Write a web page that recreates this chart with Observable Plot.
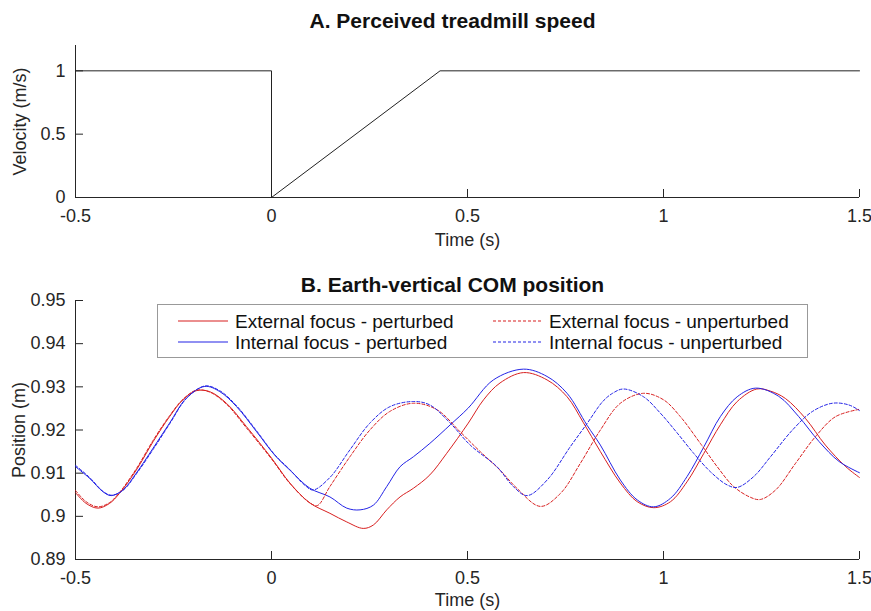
<!DOCTYPE html>
<html>
<head>
<meta charset="utf-8">
<script src="https://cdn.jsdelivr.net/npm/d3@7"></script>
<script src="https://cdn.jsdelivr.net/npm/@observablehq/plot@0.6"></script>
<style>
  body { margin: 0; background: #fff; }
  #wrap { position: relative; width: 871px; height: 611px; background: #fff;
          font-family: "Liberation Sans", Arial, Helvetica, sans-serif; }
  #legend { position: absolute; left: 157px; top: 304px; }
</style>
</head>
<body>
<div id="wrap"></div>
<script>
// ---------- data ----------
const timeTicks = [-0.5, 0, 0.5, 1, 1.5];
const velTicks = [0, 0.5, 1];
const posTicks = [0.89, 0.9, 0.91, 0.92, 0.93, 0.94, 0.95];

const titleA = "A. Perceived treadmill speed";
const titleB = "B. Earth-vertical COM position";
const xLabel = "Time (s)";
const yLabelA = "Velocity (m/s)";
const yLabelB = "Position (m)";

// Panel A: perceived treadmill speed
const velT = [-0.5, 0, 0, 0.43, 1.5];
const velV = [1, 1, 0, 1, 1];

// Panel B series
const seriesNames = [
  "External focus - perturbed",
  "Internal focus - perturbed",
  "External focus - unperturbed",
  "Internal focus - unperturbed"
];

const extPertT = [-0.5, -0.473, -0.443, -0.413, -0.388, -0.345, -0.302, -0.26, -0.226, -0.192, -0.158, -0.115, -0.064, 0.0, 0.047, 0.098, 0.149, 0.192, 0.234, 0.26, 0.294, 0.328, 0.362, 0.404, 0.447, 0.502, 0.541, 0.583, 0.643, 0.703, 0.754, 0.795, 0.839, 0.89, 0.933, 0.975, 1.018, 1.06, 1.103, 1.145, 1.188, 1.238, 1.273, 1.311, 1.362, 1.413, 1.465, 1.5];
const extPertV = [0.9055, 0.9030, 0.9019, 0.9030, 0.9053, 0.9107, 0.9173, 0.9231, 0.9270, 0.9291, 0.9289, 0.9262, 0.9208, 0.9135, 0.9077, 0.9031, 0.9007, 0.8987, 0.8972, 0.8980, 0.9015, 0.9045, 0.9065, 0.9096, 0.9146, 0.9216, 0.9270, 0.9309, 0.9333, 0.9316, 0.9277, 0.9218, 0.9150, 0.9077, 0.9034, 0.9020, 0.9034, 0.9080, 0.9146, 0.9212, 0.9266, 0.9295, 0.9290, 0.9273, 0.9227, 0.9165, 0.9115, 0.9090];

const intPertT = [-0.5, -0.464, -0.43, -0.409, -0.379, -0.345, -0.302, -0.26, -0.217, -0.17, -0.132, -0.089, -0.038, 0.008, 0.047, 0.098, 0.149, 0.192, 0.226, 0.26, 0.294, 0.328, 0.362, 0.404, 0.456, 0.502, 0.566, 0.643, 0.703, 0.754, 0.805, 0.839, 0.89, 0.933, 0.975, 1.018, 1.06, 1.103, 1.145, 1.188, 1.235, 1.294, 1.345, 1.397, 1.448, 1.5];
const intPertV = [0.9115, 0.9088, 0.9057, 0.9048, 0.9061, 0.9100, 0.9158, 0.9216, 0.9274, 0.9301, 0.9289, 0.9254, 0.9196, 0.9142, 0.9107, 0.9065, 0.9045, 0.9019, 0.9015, 0.9026, 0.9069, 0.9115, 0.9138, 0.9169, 0.9212, 0.9251, 0.9316, 0.9341, 0.9324, 0.9285, 0.9211, 0.9165, 0.9084, 0.9038, 0.9022, 0.9042, 0.9092, 0.9161, 0.9231, 0.9277, 0.9297, 0.9278, 0.9231, 0.9173, 0.9127, 0.9101];

const extUnpT = [-0.5, -0.473, -0.443, -0.413, -0.388, -0.345, -0.302, -0.26, -0.226, -0.192, -0.158, -0.115, -0.064, 0.0, 0.047, 0.098, 0.117, 0.149, 0.2, 0.251, 0.302, 0.362, 0.422, 0.481, 0.53, 0.583, 0.626, 0.686, 0.737, 0.788, 0.839, 0.89, 0.949, 1.0, 1.043, 1.094, 1.137, 1.179, 1.222, 1.247, 1.286, 1.337, 1.388, 1.439, 1.5];
const extUnpV = [0.9060, 0.9034, 0.9022, 0.9032, 0.9055, 0.9110, 0.9176, 0.9233, 0.9271, 0.9292, 0.9288, 0.9260, 0.9205, 0.9133, 0.9076, 0.9031, 0.9025, 0.9069, 0.9138, 0.9200, 0.9243, 0.9262, 0.9247, 0.9196, 0.9152, 0.9107, 0.9065, 0.9023, 0.9053, 0.9123, 0.9200, 0.9262, 0.9285, 0.9270, 0.9231, 0.9169, 0.9115, 0.9069, 0.9044, 0.9039, 0.9061, 0.9123, 0.9185, 0.9231, 0.9248];

const intUnpT = [-0.5, -0.464, -0.43, -0.409, -0.379, -0.345, -0.302, -0.26, -0.217, -0.17, -0.132, -0.089, -0.038, 0.008, 0.047, 0.085, 0.106, 0.149, 0.2, 0.251, 0.302, 0.362, 0.404, 0.456, 0.507, 0.575, 0.617, 0.652, 0.703, 0.762, 0.805, 0.845, 0.87, 0.898, 0.949, 0.992, 1.035, 1.077, 1.12, 1.162, 1.188, 1.23, 1.273, 1.329, 1.38, 1.431, 1.473, 1.5];
const intUnpV = [0.9118, 0.9090, 0.9058, 0.9049, 0.9060, 0.9098, 0.9155, 0.9214, 0.9273, 0.9302, 0.9291, 0.9256, 0.9198, 0.9143, 0.9108, 0.9072, 0.9061, 0.9090, 0.9154, 0.9216, 0.9254, 0.9266, 0.9258, 0.9216, 0.9165, 0.9115, 0.9069, 0.9048, 0.9084, 0.9161, 0.9215, 0.9266, 0.9285, 0.9295, 0.9277, 0.9239, 0.9193, 0.9146, 0.9103, 0.9073, 0.9067, 0.9092, 0.9138, 0.9200, 0.9243, 0.9262, 0.9258, 0.9245];

// ---------- styling ----------
const FONT = "'Liberation Sans', Arial, Helvetica, sans-serif";
const INK = "#262626";
const RED = "#d81f1f";
const BLUE = "#2323e6";
const DASH = "3,2";
const fmt = d => String(d);

const zip = (T, V) => T.map((t, i) => ({t, v: V[i]}));
const velData = zip(velT, velV);
const series = [
  {name: seriesNames[0], data: zip(extPertT, extPertV), color: RED, dash: null},
  {name: seriesNames[1], data: zip(intPertT, intPertV), color: BLUE, dash: null},
  {name: seriesNames[2], data: zip(extUnpT, extUnpV), color: RED, dash: DASH},
  {name: seriesNames[3], data: zip(intUnpT, intUnpV), color: BLUE, dash: DASH}
];

const W = 871, ML = 75, MR = 12;
const FW = W - ML - MR;
const TICK = 8;

// ---------- panel A ----------
const hA = 255, mtA = 45, mbA = 58;
const FHA = hA - mtA - mbA;
const chartA = Plot.plot({
  width: W, height: hA,
  marginTop: mtA, marginBottom: mbA, marginLeft: ML, marginRight: MR,
  style: {fontFamily: FONT, fontSize: "18px", color: INK, background: "white", overflow: "visible"},
  x: {domain: [-0.5, 1.5]},
  y: {domain: [0, 1.2]},
  marks: [
    Plot.axisX({ticks: timeTicks, tickSize: 0, tickPadding: 12, tickFormat: fmt, label: null, fontSize: 18}),
    Plot.axisY({ticks: velTicks, tickSize: 0, tickPadding: 10, tickFormat: fmt, label: null, fontSize: 18}),
    Plot.tickX(timeTicks, {x: d => d, insetTop: FHA - TICK, stroke: INK}),
    Plot.tickY(velTicks, {y: d => d, insetRight: FW - TICK, stroke: INK}),
    Plot.ruleY([0], {stroke: INK}),
    Plot.ruleX([-0.5], {stroke: INK}),
    Plot.line(velData, {x: "t", y: "v", stroke: "#222", strokeWidth: 1}),
    Plot.text([titleA], {frameAnchor: "top", lineAnchor: "middle", dy: -24, dx: -15, fontSize: 21, fontWeight: "bold", fill: "#111"}),
    Plot.text([xLabel], {frameAnchor: "bottom", lineAnchor: "middle", dy: 43, fontSize: 18, fill: INK}),
    Plot.text([yLabelA], {frameAnchor: "left", textAnchor: "middle", lineAnchor: "middle", rotate: -90, dx: -55, fontSize: 18, fill: INK})
  ]
});

// ---------- panel B ----------
const hB = 356, mtB = 45, mbB = 52;
const FHB = hB - mtB - mbB;
const chartB = Plot.plot({
  width: W, height: hB,
  marginTop: mtB, marginBottom: mbB, marginLeft: ML, marginRight: MR,
  style: {fontFamily: FONT, fontSize: "18px", color: INK, background: "white", overflow: "visible"},
  x: {domain: [-0.5, 1.5]},
  y: {domain: [0.89, 0.95]},
  marks: [
    Plot.axisX({ticks: timeTicks, tickSize: 0, tickPadding: 12, tickFormat: fmt, label: null, fontSize: 18}),
    Plot.axisY({ticks: posTicks, tickSize: 0, tickPadding: 10, tickFormat: fmt, label: null, fontSize: 18}),
    Plot.tickX(timeTicks, {x: d => d, insetTop: FHB - TICK, stroke: INK}),
    Plot.tickY(posTicks, {y: d => d, insetRight: FW - TICK, stroke: INK}),
    Plot.ruleY([0.89], {stroke: INK}),
    Plot.ruleX([-0.5], {stroke: INK}),
    ...series.map(s => Plot.line(s.data, {x: "t", y: "v", stroke: s.color, strokeWidth: 1, strokeDasharray: s.dash, curve: "catmull-rom"})),
    Plot.text([titleB], {frameAnchor: "top", lineAnchor: "middle", dy: -15, dx: -15, fontSize: 21, fontWeight: "bold", fill: "#111"}),
    Plot.text([xLabel], {frameAnchor: "bottom", lineAnchor: "middle", dy: 41, fontSize: 18, fill: INK}),
    Plot.text([yLabelB], {frameAnchor: "left", textAnchor: "middle", lineAnchor: "middle", rotate: -90, dx: -56, fontSize: 18, fill: INK})
  ]
});

const wrap = document.getElementById("wrap");
wrap.appendChild(chartA);
wrap.appendChild(chartB);

// ---------- legend (overlay inside panel B) ----------
const LW = 651, LH = 54;
const cols = [{x1: 21, x2: 71, tx: 78}, {x1: 336, x2: 385, tx: 392}];
const rows = [17, 38];
const order = [
  {s: series[0], c: 0, r: 0},
  {s: series[1], c: 0, r: 1},
  {s: series[2], c: 1, r: 0},
  {s: series[3], c: 1, r: 1}
];
let svg = `<svg xmlns="http://www.w3.org/2000/svg" width="${LW}" height="${LH}" style="display:block">`;
svg += `<rect x="0.5" y="0.5" width="${LW - 1}" height="${LH - 1}" fill="white" stroke="#999" stroke-width="1"/>`;
for (const o of order) {
  const c = cols[o.c], y = rows[o.r];
  svg += `<line x1="${c.x1}" x2="${c.x2}" y1="${y}" y2="${y}" stroke="${o.s.color}" stroke-width="1.1"${o.s.dash ? ` stroke-dasharray="${o.s.dash}"` : ""}/>`;
  svg += `<text x="${c.tx}" y="${y}" dy="0.35em" font-size="19" fill="#111" font-family="${FONT.replace(/'/g, "")}">${o.s.name}</text>`;
}
svg += `</svg>`;
const leg = document.createElement("div");
leg.id = "legend";
leg.innerHTML = svg;
wrap.appendChild(leg);
</script>
</body>
</html>
